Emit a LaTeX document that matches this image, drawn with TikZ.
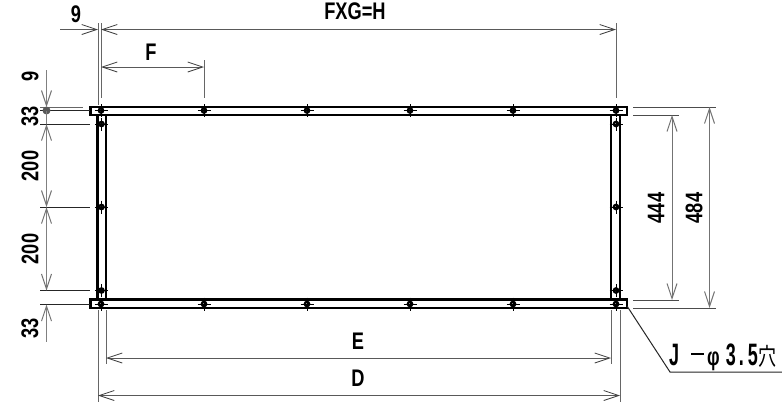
\documentclass[tikz,border=0pt]{standalone}
\usepackage{fontspec}
\setmainfont{Liberation Sans}
\newfontfamily\cjk{Noto Sans CJK JP}
\usetikzlibrary{arrows.meta}
\tikzset{
  x=1pt,y=-1pt,
  frame/.style={draw=black,line width=2.7pt,fill=white},
  ext/.style={draw=black!60,line width=1pt},
  extk/.style={draw=black!85,line width=.9pt},
  dimh/.style={draw=black!65,line width=1pt,arrows={Straight Barb[length=15pt,width=10pt,black!75,line width=.8pt]-Straight Barb[length=15pt,width=10pt,black!75,line width=.8pt]}},
  dimv/.style={draw=black!50,line width=1.3pt,arrows={Straight Barb[length=15pt,width=10pt,black!55,line width=1pt]-Straight Barb[length=15pt,width=10pt,black!55,line width=1pt]}},
  lbl/.style={inner sep=0pt,font=\fontsize{24}{24}\selectfont\bfseries,xscale=.76},
  lblr/.style={inner sep=0pt,font=\fontsize{24}{24}\selectfont\bfseries,rotate=90,xscale=.76},
}
\newcommand{\holemark}[2]{%
  \fill[black] (#1,#2) circle (3.4pt);
  \fill[white] (#1,#2) circle (.9pt);
  \draw[black,line width=.8pt] (#1-6.5,#2) -- (#1+6.5,#2) (#1,#2-6.5) -- (#1,#2+6.5);
}
\begin{document}
\begin{tikzpicture}
\useasboundingbox[fill=white] (0,0) rectangle (782,405);
% frame
\draw[frame] (97.5,115) rectangle (106,299.5);
\draw[frame] (611,115) rectangle (620,299.5);
\draw[frame] (90.5,107) rectangle (627,115);
\draw[frame] (90.5,299.5) rectangle (627,308);
% holes
\foreach \x in {101,204,307,410,513,616}{\holemark{\x}{110.5}\holemark{\x}{304}}
\foreach \y in {124,207,290.5}{\holemark{101.5}{\y}\holemark{616}{\y}}
% top extension lines
\draw[ext] (98,23) -- (98,105);
\draw[ext] (98,310) -- (98,402);
\draw[ext] (101,23) -- (101,98);
\draw[ext] (204,60) -- (204,98);
\draw[ext] (616,23) -- (616,98);
% top dimensions
\draw[draw=black!65,line width=1pt,arrows={-Straight Barb[length=15pt,width=10pt,black!75,line width=.8pt]}] (60,29.5) -- (98,29.5);
\draw[dimh] (101,29.5) -- (616,29.5);
\draw[dimh] (101,67) -- (204,67);
\node[lbl] (t9) at (76,14) {9};
\node[lbl] (tfxg) at (355,11) {FXG=H};
\node[lbl] (tf) at (151,52) {F};
% left extension lines
\draw[extk,black!60] (40,107) -- (83,107);
\draw[extk] (40,110.5) -- (90,110.5);
\draw[extk] (40,124) -- (90,124);
\draw[extk] (40,207) -- (90,207);
\draw[extk] (40,290.5) -- (90,290.5);
\draw[extk] (40,304.5) -- (90,304.5);
% left dimensions
\fill[black!65] (46.5,110.5) circle (4pt);
\draw[dimv,arrows={-Straight Barb[length=15pt,width=10pt,black!55,line width=1pt]}] (46.5,70) -- (46.5,107);
\draw[dimv] (46.5,124) -- (46.5,207);
\draw[dimv] (46.5,207) -- (46.5,290.5);
\draw[dimv,arrows={Straight Barb[length=15pt,width=10pt,black!55,line width=1pt]-}] (46.5,304.5) -- (46.5,342);
\draw[dimv,arrows={-}] (46.5,110.5) -- (46.5,124);
\node[lblr] (l9) at (30,76) {9};
\node[lblr] (l33a) at (30,116) {33};
\node[lblr] (l200a) at (30,166) {200};
\node[lblr] (l200b) at (30,249) {200};
\node[lblr] (l33b) at (30,328) {33};
% right extension lines
\draw[extk,black!70] (633,107) -- (716,107);
\draw[extk,black!70] (633,115) -- (679,115);
\draw[extk,black!70] (633,300) -- (679,300);
\draw[extk,black!70] (633,308) -- (716,308);
\draw[dimv,draw=black!55,line width=1pt] (672,115) -- (672,300);
\draw[dimv,draw=black!55,line width=1pt] (709.5,107) -- (709.5,308);
\node[lblr] (r444) at (656,208) {444};
\node[lblr] (r484) at (694,208) {484};
% bottom dimensions
\draw[ext] (106,310) -- (106,364);
\draw[ext] (611,310) -- (611,364);
\draw[ext] (620,310) -- (620,402);
\draw[dimh] (106,358) -- (611,358);
\draw[dimh] (98,395.5) -- (620,395.5);
\node[lbl] (be) at (358,341) {E};
\node[lbl] (bd) at (358,378) {D};
% leader
\coordinate (la) at (627,306);
\coordinate (lb) at (670,372);
\coordinate (lc) at (782,372);
\draw[draw=black!85,line width=1pt] (la) -- (lb) -- (lc);
\node[inner sep=0pt,anchor=base west] (jh) at (669,365) {\fontsize{31}{31}\selectfont\scalebox{.58}[1]{\bfseries J}\hspace{12pt}\rule[10pt]{13pt}{2pt}\hspace{3pt}\scalebox{.8}[1.15]{\fontsize{22}{22}\selectfont\bfseries φ}\hspace{6pt}\scalebox{.58}[1]{\bfseries 3}\hspace{3pt}\scalebox{.58}[1]{\bfseries .}\hspace{4pt}\scalebox{.58}[1]{\bfseries 5}\hspace{1pt}\scalebox{.75}[1]{\cjk\fontsize{24}{24}\selectfont 穴}};
\end{tikzpicture}
\end{document}
